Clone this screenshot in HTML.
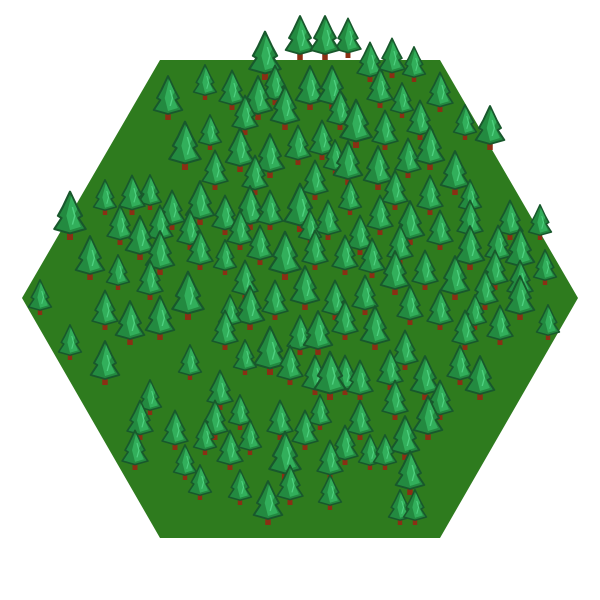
<!DOCTYPE html>
<html><head><meta charset="utf-8"><style>
html,body{margin:0;padding:0;background:#fff;width:600px;height:600px;overflow:hidden}
</style></head><body>
<svg id="tile" width="600" height="600" viewBox="0 0 600 600">
<polygon points="160,60 440,60 578,298 440,538 160,538 22,298" fill="#2e7b1e"/>
<g id="trees"></g>
</svg>
<script>
// tree base positions [x, y, scale]
const trees=[
[265,80,1.1],[300,60,1],[325,60,1],[348,58,.9],[370,82,.9],[392,78,.9],[414,82,.8],[168,120,1],[205,100,.8],[232,110,.9],[258,120,1],[285,130,1],[310,110,1],[332,110,1],[356,148,1.1],[380,108,.9],[402,118,.8],[440,112,.9],[465,140,.8],[490,150,1],[185,170,1.1],[210,150,.8],[240,172,1],[270,178,1],[298,165,.9],[322,160,.9],[348,185,1],[378,190,1],[408,178,.9],[430,170,1],[455,195,1],[470,215,.8],[70,240,1.1],[105,215,.8],[132,215,.9],[150,210,.8],[172,230,.9],[200,225,1],[225,235,.9],[250,230,1],[270,230,.9],[300,232,1.1],[328,240,.9],[350,215,.8],[380,235,.9],[410,245,1],[440,250,.9],[470,270,1],[498,265,.9],[520,272,1],[540,240,.8],[90,280,1],[118,290,.8],[140,260,1],[160,275,1],[200,270,.9],[225,275,.8],[260,265,.9],[285,280,1.1],[315,270,.9],[345,275,.9],[372,278,.9],[395,295,1],[425,290,.9],[455,300,1],[485,310,.9],[520,320,1],[545,285,.8],[40,315,.8],[105,330,.9],[130,345,1],[160,340,1],[188,320,1.1],[225,350,.9],[250,330,1],[270,375,1.1],[300,355,.9],[318,355,1],[345,340,.9],[375,350,1],[405,370,.9],[440,330,.9],[465,350,.9],[500,345,.9],[548,340,.8],[70,360,.8],[105,385,1],[190,380,.8],[220,410,.9],[245,375,.8],[330,400,1.1],[360,400,.9],[390,390,.9],[425,400,1],[460,385,.9],[480,400,1],[150,415,.8],[175,450,.9],[205,455,.8],[230,470,.9],[250,455,.8],[285,480,1.1],[305,450,.9],[345,465,.9],[370,470,.8],[385,470,.8],[405,460,1],[428,440,1],[135,470,.9],[200,500,.8],[240,505,.8],[268,525,1],[330,510,.8],[400,525,.8],[410,495,1],[415,525,.8],
[245,135,.9],[275,105,.9],[340,130,.9],[420,140,.9],[215,190,.9],[255,195,.9],[315,200,.9],[335,175,.8],[395,210,.9],[160,245,.9],[190,250,.9],[240,250,.9],[310,245,.8],[360,255,.9],[400,265,.9],[430,215,.9],[510,240,.9],[150,300,.9],[245,300,.9],[275,320,.9],[305,310,1],[335,320,.9],[365,315,.9],[410,325,.9],[495,290,.9],[230,330,.8],[290,385,.9],[315,395,.9],[345,395,.9],[395,420,.9],[440,420,.9],[215,440,.9],[280,440,.9],[320,430,.8],[360,440,.9],[140,440,.9],[240,430,.8],[290,505,.9],[185,480,.8],[330,480,.9],[475,330,.8],[520,300,.9],[120,245,.9],[470,240,.9],[385,150,.9]
];
const g=document.getElementById('trees');
const ns='http://www.w3.org/2000/svg';
trees.sort((a,b)=>a[1]-b[1]).forEach((t,i)=>{
 const x=t[0],y=t[1],s=t[2];
 const grp=document.createElementNS(ns,'g');
 grp.setAttribute('transform',`translate(${x},${y}) scale(${s*1.1},${s})`);
 
 
 grp.innerHTML=`<rect x="-2.5" y="-8" width="5" height="8" fill="#8a2f14"/>
 <path d="M0,-44 L6,-30 L10,-22 L7,-20 L13,-10 L0,-6 L-13,-10 L-7,-20 L-10,-22 L-6,-30 Z" fill="#238a40" stroke="#18582c" stroke-width="1.8" stroke-linejoin="round"/>
 <path d="M1,-40 L6,-28 L4,-24 L9,-12 L0,-9 L-3,-22 Z" fill="#34b25e" opacity=".9"/>
 <path d="M2,-30 L4,-22 L2,-14" stroke="#4fd080" stroke-width="1.2" fill="none"/>`;
 g.appendChild(grp);
});
</script>
</body></html>
